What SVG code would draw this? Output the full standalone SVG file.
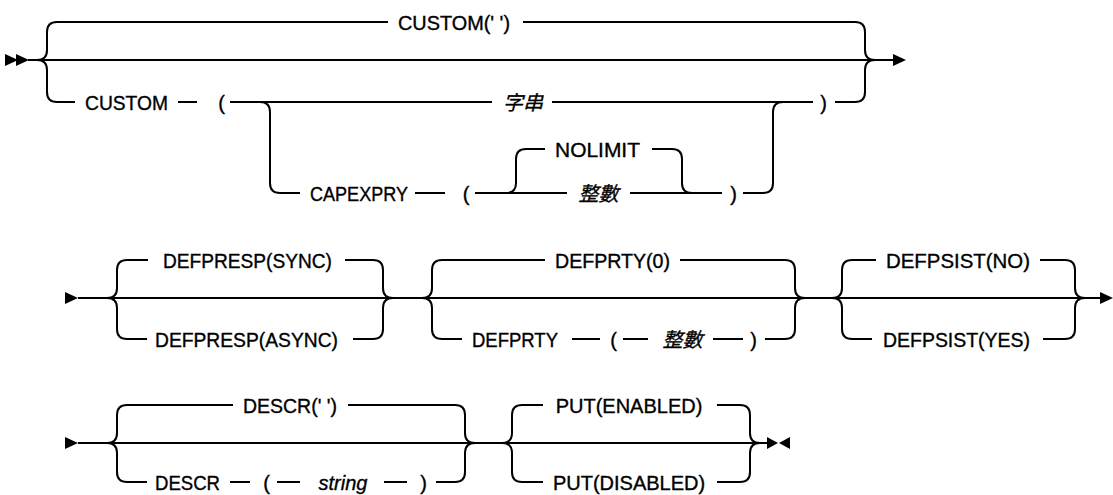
<svg xmlns="http://www.w3.org/2000/svg" width="1113" height="495" viewBox="0 0 1113 495">
<style>
.ln{fill:none;stroke:#000;stroke-width:2}
.ar{fill:#000}
text{font-family:"Liberation Sans","Noto Sans CJK TC",sans-serif;font-size:20px;fill:#000;stroke:#000;stroke-width:0.35;text-anchor:middle}
.v{font-style:italic}
</style>
<defs>
<path id="tr" d="M0,-6 L13,0 L0,6 Z"/>
</defs>
<rect width="1113" height="495" fill="#fff"/>
<g id="connectors">
<use href="#tr" class="ar" x="5" y="60"/>
<use href="#tr" class="ar" x="16" y="60"/>
<path class="ln" d="M28,60 H893"/>
<path class="ln" d="M37,60 Q47,60 47,50 V32 Q47,22 57,22 H388"/>
<path class="ln" d="M523,22 H855 Q865,22 865,32 V50 Q865,60 875,60"/>
<path class="ln" d="M37,60 Q47,60 47,70 V92 Q47,102 57,102 H75"/>
<path class="ln" d="M178,102 H197"/>
<path class="ln" d="M230,102 H492"/>
<path class="ln" d="M552,102 H813"/>
<path class="ln" d="M835,102 H855 Q865,102 865,92 V70 Q865,60 875,60"/>
<path class="ln" d="M260,102 Q270,102 270,112 V183 Q270,193 280,193 H300"/>
<path class="ln" d="M415,193 H445"/>
<path class="ln" d="M475,193 H567"/>
<path class="ln" d="M630,193 H722"/>
<path class="ln" d="M743,193 H763 Q773,193 773,183 V112 Q773,102 783,102"/>
<path class="ln" d="M506,193 Q516,193 516,183 V159 Q516,149 526,149 H545"/>
<path class="ln" d="M652,149 H672 Q682,149 682,159 V183 Q682,193 692,193"/>
<use href="#tr" class="ar" x="893" y="60"/>
<use href="#tr" class="ar" x="65" y="298"/>
<path class="ln" d="M78,298 H1100"/>
<path class="ln" d="M107,298 Q117,298 117,288 V270 Q117,260 127,260 H148"/>
<path class="ln" d="M345,260 H373 Q383,260 383,270 V288 Q383,298 393,298"/>
<path class="ln" d="M107,298 Q117,298 117,308 V329 Q117,339 127,339 H147"/>
<path class="ln" d="M353,339 H373 Q383,339 383,329 V308 Q383,298 393,298"/>
<path class="ln" d="M422,298 Q432,298 432,288 V270 Q432,260 442,260 H545"/>
<path class="ln" d="M680,260 H785 Q795,260 795,270 V288 Q795,298 805,298"/>
<path class="ln" d="M422,298 Q432,298 432,308 V329 Q432,339 442,339 H462"/>
<path class="ln" d="M572,339 H600"/>
<path class="ln" d="M623,339 H648"/>
<path class="ln" d="M713,339 H743"/>
<path class="ln" d="M765,339 H785 Q795,339 795,329 V308 Q795,298 805,298"/>
<path class="ln" d="M832,298 Q842,298 842,288 V270 Q842,260 852,260 H876"/>
<path class="ln" d="M1040,260 H1065 Q1075,260 1075,270 V288 Q1075,298 1085,298"/>
<path class="ln" d="M832,298 Q842,298 842,308 V329 Q842,339 852,339 H872"/>
<path class="ln" d="M1043,339 H1065 Q1075,339 1075,329 V308 Q1075,298 1085,298"/>
<use href="#tr" class="ar" x="1100" y="298"/>
<use href="#tr" class="ar" x="65" y="443"/>
<path class="ln" d="M78,443 H767"/>
<path class="ln" d="M107,443 Q117,443 117,433 V415 Q117,405 127,405 H233"/>
<path class="ln" d="M348,405 H455 Q465,405 465,415 V433 Q465,443 475,443"/>
<path class="ln" d="M107,443 Q117,443 117,453 V472 Q117,482 127,482 H147"/>
<path class="ln" d="M230,482 H250"/>
<path class="ln" d="M277,482 H300"/>
<path class="ln" d="M384,482 H407"/>
<path class="ln" d="M436,482 H455 Q465,482 465,472 V453 Q465,443 475,443"/>
<path class="ln" d="M502,443 Q512,443 512,433 V415 Q512,405 522,405 H543"/>
<path class="ln" d="M717,405 H740 Q750,405 750,415 V433 Q750,443 760,443"/>
<path class="ln" d="M502,443 Q512,443 512,453 V472 Q512,482 522,482 H543"/>
<path class="ln" d="M717,482 H740 Q750,482 750,472 V453 Q750,443 760,443"/>
<path class="ar" d="M767,437 L778,443 L767,449 Z M790,437 L779,443 L790,449 Z"/>
</g>
<g id="n-custom-default"><text x="454" y="29.5" textLength="112" lengthAdjust="spacingAndGlyphs">CUSTOM(' ')</text></g>
<g id="n-custom"><text x="126.5" y="109.5" textLength="83" lengthAdjust="spacingAndGlyphs">CUSTOM</text></g>
<g id="n-custom-lp"><text x="221.5" y="109.5">(</text></g>
<g id="n-string-zh"><text class="v" x="523" y="109.5">字串</text></g>
<g id="n-custom-rp"><text x="823.5" y="109.5">)</text></g>
<g id="n-capexpry"><text x="359" y="200.5" textLength="98" lengthAdjust="spacingAndGlyphs">CAPEXPRY</text></g>
<g id="n-capexpry-lp"><text x="466" y="200.5">(</text></g>
<g id="n-nolimit"><text x="597.5" y="156.5" textLength="85" lengthAdjust="spacingAndGlyphs">NOLIMIT</text></g>
<g id="n-int1"><text class="v" x="598.5" y="200.5">整數</text></g>
<g id="n-capexpry-rp"><text x="733.5" y="200.5">)</text></g>
<g id="n-defpresp-sync"><text x="247.5" y="267.5" textLength="169" lengthAdjust="spacingAndGlyphs">DEFPRESP(SYNC)</text></g>
<g id="n-defpresp-async"><text x="246.5" y="346.5" textLength="183" lengthAdjust="spacingAndGlyphs">DEFPRESP(ASYNC)</text></g>
<g id="n-defprty-0"><text x="612.5" y="267.5" textLength="115" lengthAdjust="spacingAndGlyphs">DEFPRTY(0)</text></g>
<g id="n-defprty"><text x="515" y="346.5" textLength="86" lengthAdjust="spacingAndGlyphs">DEFPRTY</text></g>
<g id="n-defprty-lp"><text x="613.5" y="346.5">(</text></g>
<g id="n-int2"><text class="v" x="682.5" y="346.5">整數</text></g>
<g id="n-defprty-rp"><text x="753.5" y="346.5">)</text></g>
<g id="n-defpsist-no"><text x="958" y="267.5" textLength="144" lengthAdjust="spacingAndGlyphs">DEFPSIST(NO)</text></g>
<g id="n-defpsist-yes"><text x="956.5" y="346.5" textLength="147" lengthAdjust="spacingAndGlyphs">DEFPSIST(YES)</text></g>
<g id="n-descr-default"><text x="290" y="412.5" textLength="94" lengthAdjust="spacingAndGlyphs">DESCR(' ')</text></g>
<g id="n-descr"><text x="187.5" y="489.5" textLength="65" lengthAdjust="spacingAndGlyphs">DESCR</text></g>
<g id="n-descr-lp"><text x="266.5" y="489.5">(</text></g>
<g id="n-descr-string"><text class="v" x="343" y="489.5">string</text></g>
<g id="n-descr-rp"><text x="423.5" y="489.5">)</text></g>
<g id="n-put-enabled"><text x="629" y="412.5">PUT(ENABLED)</text></g>
<g id="n-put-disabled"><text x="629" y="489.5">PUT(DISABLED)</text></g>
</svg>
